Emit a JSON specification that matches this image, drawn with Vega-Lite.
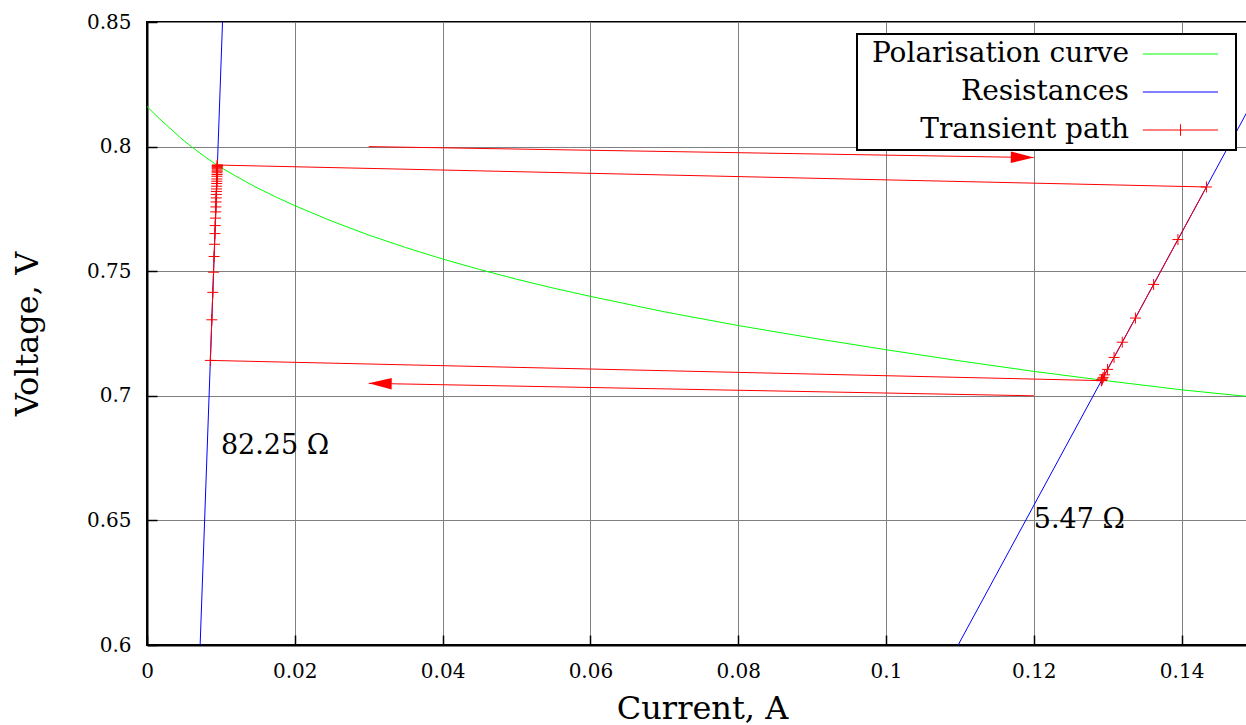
{
  "$schema": "https://vega.github.io/schema/vega-lite/v6.json",
  "width": 1110,
  "height": 623,
  "autosize": "none",
  "padding": {"left": 147, "top": 22, "right": 0, "bottom": 80},
  "background": "white",
  "datasets": {
    "lines": [
      {"series": "Polarisation curve", "seg": "g", "k": 0, "I": 0, "V": 0.8161},
      {"series": "Polarisation curve", "seg": "g", "k": 1, "I": 0.0015, "V": 0.8117},
      {"series": "Polarisation curve", "seg": "g", "k": 2, "I": 0.003, "V": 0.8077},
      {"series": "Polarisation curve", "seg": "g", "k": 3, "I": 0.0045, "V": 0.8036},
      {"series": "Polarisation curve", "seg": "g", "k": 4, "I": 0.006, "V": 0.8},
      {"series": "Polarisation curve", "seg": "g", "k": 5, "I": 0.00775, "V": 0.7961},
      {"series": "Polarisation curve", "seg": "g", "k": 6, "I": 0.0095, "V": 0.7925},
      {"series": "Polarisation curve", "seg": "g", "k": 7, "I": 0.012, "V": 0.7882},
      {"series": "Polarisation curve", "seg": "g", "k": 8, "I": 0.01475, "V": 0.7837},
      {"series": "Polarisation curve", "seg": "g", "k": 9, "I": 0.0175, "V": 0.7797},
      {"series": "Polarisation curve", "seg": "g", "k": 10, "I": 0.02, "V": 0.7763},
      {"series": "Polarisation curve", "seg": "g", "k": 11, "I": 0.025, "V": 0.7701},
      {"series": "Polarisation curve", "seg": "g", "k": 12, "I": 0.03, "V": 0.7645},
      {"series": "Polarisation curve", "seg": "g", "k": 13, "I": 0.035, "V": 0.7595},
      {"series": "Polarisation curve", "seg": "g", "k": 14, "I": 0.04, "V": 0.7549},
      {"series": "Polarisation curve", "seg": "g", "k": 15, "I": 0.045, "V": 0.7507},
      {"series": "Polarisation curve", "seg": "g", "k": 16, "I": 0.05, "V": 0.7468},
      {"series": "Polarisation curve", "seg": "g", "k": 17, "I": 0.055, "V": 0.7432},
      {"series": "Polarisation curve", "seg": "g", "k": 18, "I": 0.06, "V": 0.7399},
      {"series": "Polarisation curve", "seg": "g", "k": 19, "I": 0.07, "V": 0.7337},
      {"series": "Polarisation curve", "seg": "g", "k": 20, "I": 0.08, "V": 0.7282},
      {"series": "Polarisation curve", "seg": "g", "k": 21, "I": 0.09, "V": 0.7232},
      {"series": "Polarisation curve", "seg": "g", "k": 22, "I": 0.1, "V": 0.7185},
      {"series": "Polarisation curve", "seg": "g", "k": 23, "I": 0.11, "V": 0.714},
      {"series": "Polarisation curve", "seg": "g", "k": 24, "I": 0.12, "V": 0.7098},
      {"series": "Polarisation curve", "seg": "g", "k": 25, "I": 0.13, "V": 0.706},
      {"series": "Polarisation curve", "seg": "g", "k": 26, "I": 0.14, "V": 0.7024},
      {"series": "Polarisation curve", "seg": "g", "k": 27, "I": 0.1487, "V": 0.6998},
      {"series": "Polarisation curve", "seg": "g", "k": 28, "I": 0.1502, "V": 0.6994},
      {"series": "Resistances", "seg": "r1", "k": 0, "I": 0.00719, "V": 0.6},
      {"series": "Resistances", "seg": "r1", "k": 1, "I": 0.01022, "V": 0.85},
      {"series": "Resistances", "seg": "r2", "k": 0, "I": 0.10976, "V": 0.6},
      {"series": "Resistances", "seg": "r2", "k": 1, "I": 0.152, "V": 0.8311},
      {"series": "Transient path", "seg": "t", "k": 0, "I": 0.12915, "V": 0.7061},
      {"series": "Transient path", "seg": "t", "k": 1, "I": 0.008574, "V": 0.7142},
      {"series": "Transient path", "seg": "t", "k": 2, "I": 0.008772, "V": 0.7305},
      {"series": "Transient path", "seg": "t", "k": 3, "I": 0.008905, "V": 0.7415},
      {"series": "Transient path", "seg": "t", "k": 4, "I": 0.009003, "V": 0.7496},
      {"series": "Transient path", "seg": "t", "k": 5, "I": 0.00908, "V": 0.7559},
      {"series": "Transient path", "seg": "t", "k": 6, "I": 0.009139, "V": 0.7608},
      {"series": "Transient path", "seg": "t", "k": 7, "I": 0.009191, "V": 0.7651},
      {"series": "Transient path", "seg": "t", "k": 8, "I": 0.00923, "V": 0.7683},
      {"series": "Transient path", "seg": "t", "k": 9, "I": 0.009266, "V": 0.7713},
      {"series": "Transient path", "seg": "t", "k": 10, "I": 0.009297, "V": 0.7738},
      {"series": "Transient path", "seg": "t", "k": 11, "I": 0.009321, "V": 0.7758},
      {"series": "Transient path", "seg": "t", "k": 12, "I": 0.009345, "V": 0.7778},
      {"series": "Transient path", "seg": "t", "k": 13, "I": 0.009364, "V": 0.7794},
      {"series": "Transient path", "seg": "t", "k": 14, "I": 0.009381, "V": 0.7808},
      {"series": "Transient path", "seg": "t", "k": 15, "I": 0.009396, "V": 0.782},
      {"series": "Transient path", "seg": "t", "k": 16, "I": 0.009408, "V": 0.783},
      {"series": "Transient path", "seg": "t", "k": 17, "I": 0.009421, "V": 0.7841},
      {"series": "Transient path", "seg": "t", "k": 18, "I": 0.009435, "V": 0.7852},
      {"series": "Transient path", "seg": "t", "k": 19, "I": 0.009445, "V": 0.7861},
      {"series": "Transient path", "seg": "t", "k": 20, "I": 0.009456, "V": 0.787},
      {"series": "Transient path", "seg": "t", "k": 21, "I": 0.00947, "V": 0.7881},
      {"series": "Transient path", "seg": "t", "k": 22, "I": 0.009478, "V": 0.7888},
      {"series": "Transient path", "seg": "t", "k": 23, "I": 0.009487, "V": 0.7895},
      {"series": "Transient path", "seg": "t", "k": 24, "I": 0.009494, "V": 0.7901},
      {"series": "Transient path", "seg": "t", "k": 25, "I": 0.0095, "V": 0.7906},
      {"series": "Transient path", "seg": "t", "k": 26, "I": 0.009506, "V": 0.7911},
      {"series": "Transient path", "seg": "t", "k": 27, "I": 0.009511, "V": 0.7915},
      {"series": "Transient path", "seg": "t", "k": 28, "I": 0.009515, "V": 0.7918},
      {"series": "Transient path", "seg": "t", "k": 29, "I": 0.009518, "V": 0.7921},
      {"series": "Transient path", "seg": "t", "k": 30, "I": 0.009521, "V": 0.7923},
      {"series": "Transient path", "seg": "t", "k": 31, "I": 0.009523, "V": 0.7925},
      {"series": "Transient path", "seg": "t", "k": 32, "I": 0.009524, "V": 0.7926},
      {"series": "Transient path", "seg": "t", "k": 33, "I": 0.14336, "V": 0.7838},
      {"series": "Transient path", "seg": "t", "k": 34, "I": 0.1395, "V": 0.7627},
      {"series": "Transient path", "seg": "t", "k": 35, "I": 0.13621, "V": 0.7447},
      {"series": "Transient path", "seg": "t", "k": 36, "I": 0.13375, "V": 0.7312},
      {"series": "Transient path", "seg": "t", "k": 37, "I": 0.13197, "V": 0.7215},
      {"series": "Transient path", "seg": "t", "k": 38, "I": 0.13086, "V": 0.7154},
      {"series": "Transient path", "seg": "t", "k": 39, "I": 0.12998, "V": 0.7106},
      {"series": "Transient path", "seg": "t", "k": 40, "I": 0.12958, "V": 0.7084},
      {"series": "Transient path", "seg": "t", "k": 41, "I": 0.12939, "V": 0.7074},
      {"series": "Transient path", "seg": "t", "k": 42, "I": 0.12928, "V": 0.7068},
      {"series": "Transient path", "seg": "t", "k": 43, "I": 0.12921, "V": 0.7064},
      {"series": "Transient path", "seg": "t", "k": 44, "I": 0.12917, "V": 0.7062},
      {"series": "Transient path", "seg": "t", "k": 45, "I": 0.12915, "V": 0.7061}
    ],
    "arrows": [
      {"I": 0.03, "V": 0.8, "I2": 0.12, "V2": 0.7956},
      {"I": 0.12, "V": 0.7, "I2": 0.03, "V2": 0.705}
    ],
    "heads": [
      {"I": 0.12, "V": 0.7956, "dir": "right"},
      {"I": 0.03, "V": 0.705, "dir": "left"}
    ],
    "labels": [
      {"I": 0.01, "V": 0.68, "label": "82.25 Ω"},
      {"I": 0.12, "V": 0.65, "label": "5.47 Ω"}
    ]
  },
  "encoding": {
    "x": {
      "field": "I", "type": "quantitative",
      "scale": {"domain": [0, 0.1502], "nice": false, "zero": false},
      "axis": {
        "orient": "bottom",
        "values": [0, 0.02, 0.04, 0.06, 0.08, 0.1, 0.12, 0.14],
        "format": ".2~f",
        "title": "Current, A",
        "grid": true,
        "labelPadding": 26,
        "titlePadding": 12
      }
    },
    "y": {
      "field": "V", "type": "quantitative",
      "scale": {"domain": [0.6, 0.85], "nice": false, "zero": false},
      "axis": {
        "orient": "left",
        "values": [0.6, 0.65, 0.7, 0.75, 0.8, 0.85],
        "format": ".2~f",
        "title": "Voltage, V",
        "grid": true,
        "labelPadding": 26,
        "titlePadding": 42
      }
    }
  },
  "layer": [
    {
      "data": {"name": "lines"},
      "mark": {"type": "line", "strokeWidth": 1, "clip": true},
      "encoding": {
        "color": {
          "field": "series", "type": "nominal",
          "scale": {
            "domain": ["Polarisation curve", "Resistances", "Transient path"],
            "range": ["#00ff00", "#0000ff", "#ff0000"]
          },
          "legend": {
            "orient": "none",
            "legendX": 710,
            "legendY": 12,
            "title": null,
            "labelFont": "DejaVu Serif",
            "labelFontSize": 28,
            "labelColor": "black",
            "labelAlign": "right",
            "labelLimit": 500,
            "labelOffset": 238,
            "symbolSize": 100,
            "rowPadding": 10,
            "padding": 6,
            "strokeColor": "black",
            "fillColor": "white",
            "encode": {
              "legend": {"update": {"strokeWidth": {"value": 2}}},
              "symbols": {
                "update": {
                  "shape": {"signal": "datum.value === 'Transient path' ? 'M53.17,0L68.2,0M60.7,-1.15L60.7,1.15M70.1,0' : 'M53.17,0L68.2,0M70.1,0'"},
                  "fill": {"value": "transparent"},
                  "strokeWidth": {"value": 1}
                }
              }
            }
          }
        },
        "detail": {"field": "seg"},
        "order": {"field": "k", "type": "quantitative"}
      }
    },
    {
      "data": {"name": "lines"},
      "transform": [{"filter": "datum.series === 'Transient path'"}],
      "mark": {
        "type": "point",
        "shape": "M-1,0L1,0M0,-1L0,1",
        "size": 121,
        "filled": false,
        "stroke": "#ff0000",
        "strokeWidth": 1,
        "opacity": 1,
        "clip": true
      }
    },
    {
      "data": {"name": "arrows"},
      "mark": {"type": "rule", "color": "#ff0000", "strokeWidth": 1},
      "encoding": {
        "x2": {"field": "I2"},
        "y2": {"field": "V2"}
      }
    },
    {
      "data": {"name": "heads"},
      "mark": {"type": "point", "filled": true, "size": 529, "opacity": 1, "color": "#ff0000", "strokeWidth": 0, "angle": 0.9},
      "encoding": {
        "shape": {
          "field": "dir", "type": "nominal",
          "scale": {"domain": ["right", "left"], "range": ["M0,0L-2,-0.5L-2,0.5Z", "M0,0L2,-0.5L2,0.5Z"]},
          "legend": null
        }
      }
    },
    {
      "data": {"name": "labels"},
      "mark": {"type": "text", "align": "left", "baseline": "middle", "font": "DejaVu Serif", "fontSize": 27, "color": "black"},
      "encoding": {
        "text": {"field": "label"}
      }
    }
  ],
  "config": {
    "view": {"stroke": "black", "strokeWidth": 2},
    "font": "DejaVu Serif",
    "axis": {
      "gridColor": "#808080",
      "gridWidth": 1,
      "gridOpacity": 1,
      "domainColor": "black",
      "domainWidth": 2,
      "tickColor": "black",
      "tickSize": -10,
      "tickWidth": 1.5,
      "labelFont": "DejaVu Serif",
      "labelFontSize": 20,
      "labelColor": "black",
      "labelFlush": false,
      "labelOverlap": false,
      "titleFont": "DejaVu Serif",
      "titleFontSize": 32,
      "titleFontWeight": "normal",
      "titleColor": "black"
    }
  }
}
